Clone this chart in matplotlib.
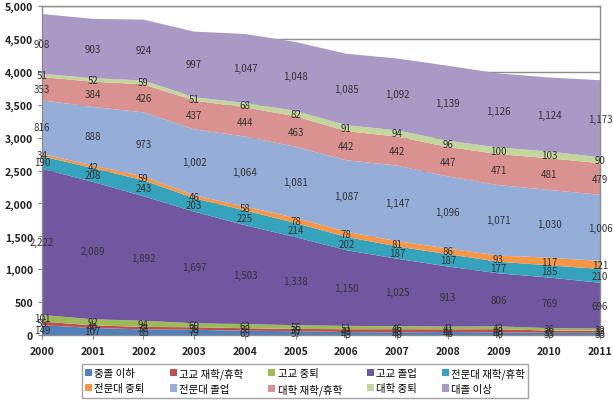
import numpy as np
import matplotlib
matplotlib.use("Agg")
import matplotlib.pyplot as plt
from matplotlib.patches import Patch
from matplotlib.ticker import FuncFormatter, MultipleLocator

plt.rcParams['font.family'] = ['Noto Sans CJK KR', 'DejaVu Sans']

years = [2000, 2001, 2002, 2003, 2004, 2005, 2006, 2007, 2008, 2009, 2010, 2011]
series_names = ['중졸 이하', '고교 재학/휴학', '고교 중퇴', '고교 졸업', '전문대 재학/휴학',
                '전문대 중퇴', '전문대 졸업', '대학 재학/휴학', '대학 중퇴', '대졸 이상']

middle_or_less = [149, 107, 85, 79, 65, 57, 45, 40, 46, 40, 33, 33]
hs_enrolled = [55, 40, 38, 39, 38, 36, 43, 48, 41, 48, 35, 33]
hs_dropout = [101, 92, 94, 60, 63, 56, 51, 46, 41, 43, 36, 32]
hs_grad = [2222, 2089, 1892, 1697, 1503, 1338, 1150, 1025, 913, 806, 769, 696]
jc_enrolled = [190, 208, 243, 203, 225, 214, 202, 187, 187, 177, 185, 210]
jc_dropout = [34, 42, 59, 46, 58, 78, 78, 81, 86, 93, 117, 121]
jc_grad = [816, 888, 973, 1002, 1064, 1081, 1087, 1147, 1096, 1071, 1030, 1006]
univ_enrolled = [353, 384, 426, 437, 444, 463, 442, 442, 447, 471, 481, 479]
univ_dropout = [51, 52, 59, 51, 68, 82, 91, 94, 96, 100, 103, 90]
univ_grad = [908, 903, 924, 997, 1047, 1048, 1085, 1092, 1139, 1126, 1124, 1173]

values = [middle_or_less, hs_enrolled, hs_dropout, hs_grad, jc_enrolled,
          jc_dropout, jc_grad, univ_enrolled, univ_dropout, univ_grad]

colors = ['#4F81BD', '#C0504D', '#9BBB59', '#7157A0', '#35A3BC',
          '#F79646', '#94AED8', '#D9928F', '#C3D69B', '#A999C5']

fig = plt.figure(figsize=(6.13, 4.02), dpi=100)
ax = fig.add_axes([42/613, 1 - 336/402, (600-42)/613, (336-7)/402])

x = np.arange(len(years))
ax.stackplot(x, *values, colors=colors, linewidth=0, zorder=2)

cum = np.zeros(len(years))
for vals in values:
    v = np.array(vals, dtype=float)
    for i in range(len(years)):
        ax.text(x[i], cum[i] + v[i] / 2, f"{int(v[i]):,}", ha='center', va='center',
                fontsize=7, color='#333333', zorder=4, clip_on=False)
    cum += v

ax.set_xlim(0, len(years) - 1)
ax.set_ylim(0, 5000)
ax.yaxis.set_major_locator(MultipleLocator(500))
ax.yaxis.set_major_formatter(FuncFormatter(lambda v, p: f"{int(v):,}"))
ax.set_xticks(x)
ax.set_xticklabels([str(y) for y in years])
ax.tick_params(axis='both', labelsize=7.5, colors='#888888', labelcolor='#222222', length=3)
for lab in ax.get_xticklabels() + ax.get_yticklabels():
    lab.set_fontweight('bold')
ax.tick_params(axis='x', pad=5)
ax.grid(axis='y', color='#8c8c8c', linewidth=1, zorder=0)
ax.set_axisbelow(True)
for s in ax.spines.values():
    s.set_color('#8c8c8c')
    s.set_linewidth(1)

handles = [Patch(facecolor=c, edgecolor='none') for c in colors]
order = [0, 5, 1, 6, 2, 7, 3, 8, 4, 9]
leg = fig.legend([handles[i] for i in order], [series_names[i] for i in order],
                 ncol=5, loc='center', bbox_to_anchor=(305/613, 1 - 382/402),
                 fontsize=7.5, frameon=True, fancybox=False, edgecolor='#8c8c8c',
                 handlelength=0.7, handleheight=0.7, handletextpad=0.2,
                 columnspacing=2.4, borderpad=0.3, labelspacing=0.45)
leg.get_frame().set_linewidth(1)

fig.savefig('out.png', dpi=100)
